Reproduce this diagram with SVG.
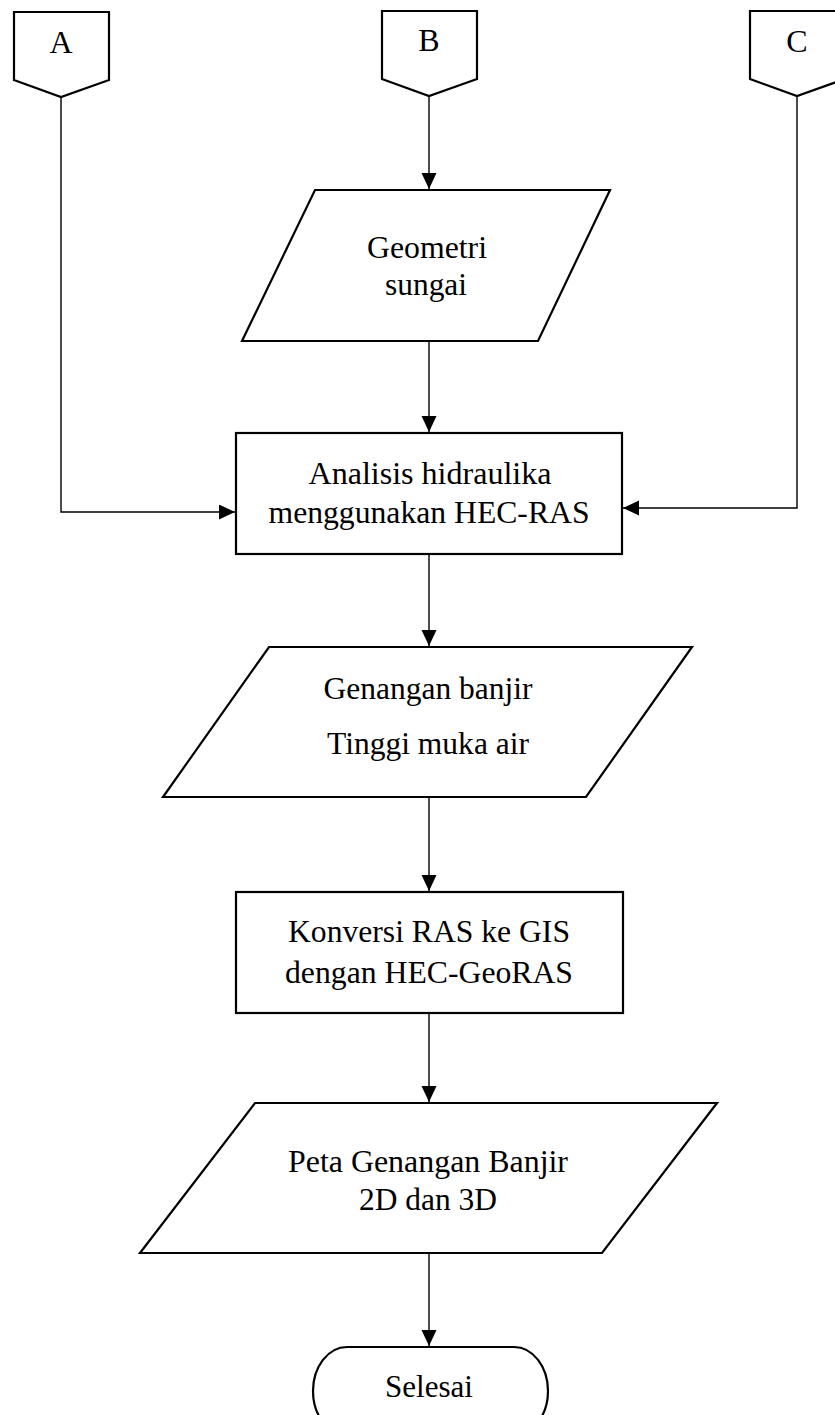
<svg xmlns="http://www.w3.org/2000/svg" width="835" height="1415" viewBox="0 0 835 1415">
<style>
  .shape { fill: #ffffff; stroke: #000000; stroke-width: 2.2; stroke-linejoin: miter; }
  .conn { fill: none; stroke: #000000; stroke-width: 1.4; }
  .txt { font-family: "Liberation Serif", "Times New Roman", serif; font-size: 31px; fill: #000000; text-anchor: middle; }
  .lbl { font-family: "Liberation Serif", "Times New Roman", serif; font-size: 32px; fill: #000000; text-anchor: middle; }
</style>
<defs>
  <marker id="arrow" markerUnits="userSpaceOnUse" markerWidth="17" markerHeight="16" refX="16" refY="7.5" orient="auto">
    <path d="M0,0 L16,7.5 L0,15 Z" fill="#000000"/>
  </marker>
</defs>
<rect width="835" height="1415" fill="#ffffff"/>

<g id="connectors">
  <path class="conn" d="M61,97 V512 H235" marker-end="url(#arrow)"/>
  <path class="conn" d="M797,96 V508 H623" marker-end="url(#arrow)"/>
  <path class="conn" d="M429,96 V189" marker-end="url(#arrow)"/>
  <path class="conn" d="M429,341 V432" marker-end="url(#arrow)"/>
  <path class="conn" d="M429,554 V646" marker-end="url(#arrow)"/>
  <path class="conn" d="M429,797 V891" marker-end="url(#arrow)"/>
  <path class="conn" d="M429,1013 V1102" marker-end="url(#arrow)"/>
  <path class="conn" d="M429,1253 V1346" marker-end="url(#arrow)"/>
</g>

<g id="node-A">
  <path class="shape" d="M14,12 H109 V80 L61,97 L14,80 Z"/>
  <text class="lbl" x="61" y="53">A</text>
</g>
<g id="node-B">
  <path class="shape" d="M382,11 H477 V79 L429,96 L382,79 Z"/>
  <text class="lbl" x="429" y="51">B</text>
</g>
<g id="node-C">
  <path class="shape" d="M750,11 H845 V79 L797,96 L750,79 Z"/>
  <text class="lbl" x="797" y="52">C</text>
</g>

<g id="node-geometri">
  <path class="shape" d="M315,190 H610 L538,341 H242 Z"/>
  <text class="txt" x="427" y="258" textLength="120" lengthAdjust="spacingAndGlyphs">Geometri</text>
  <text class="txt" x="426" y="295" textLength="82" lengthAdjust="spacingAndGlyphs">sungai</text>
</g>

<g id="node-analisis">
  <rect class="shape" x="236" y="433" width="386" height="121"/>
  <text class="txt" x="430" y="484" textLength="243" lengthAdjust="spacingAndGlyphs">Analisis hidraulika</text>
  <text class="txt" x="429" y="523" textLength="321" lengthAdjust="spacingAndGlyphs">menggunakan HEC-RAS</text>
</g>

<g id="node-genangan">
  <path class="shape" d="M269,647 H692 L586,797 H163 Z"/>
  <text class="txt" x="428" y="699" textLength="209" lengthAdjust="spacingAndGlyphs">Genangan banjir</text>
  <text class="txt" x="428" y="754" textLength="202" lengthAdjust="spacingAndGlyphs">Tinggi muka air</text>
</g>

<g id="node-konversi">
  <rect class="shape" x="236" y="892" width="387" height="121"/>
  <text class="txt" x="429" y="942" textLength="282" lengthAdjust="spacingAndGlyphs">Konversi RAS ke GIS</text>
  <text class="txt" x="429" y="983" textLength="288" lengthAdjust="spacingAndGlyphs">dengan HEC-GeoRAS</text>
</g>

<g id="node-peta">
  <path class="shape" d="M255,1103 H717 L602,1253 H140 Z"/>
  <text class="txt" x="428" y="1172" textLength="280" lengthAdjust="spacingAndGlyphs">Peta Genangan Banjir</text>
  <text class="txt" x="428" y="1210" textLength="138" lengthAdjust="spacingAndGlyphs">2D dan 3D</text>
</g>

<g id="node-selesai">
  <rect class="shape" x="313" y="1347" width="235" height="88" rx="34" ry="44"/>
  <text class="txt" x="429" y="1397" textLength="88" lengthAdjust="spacingAndGlyphs">Selesai</text>
</g>
</svg>
